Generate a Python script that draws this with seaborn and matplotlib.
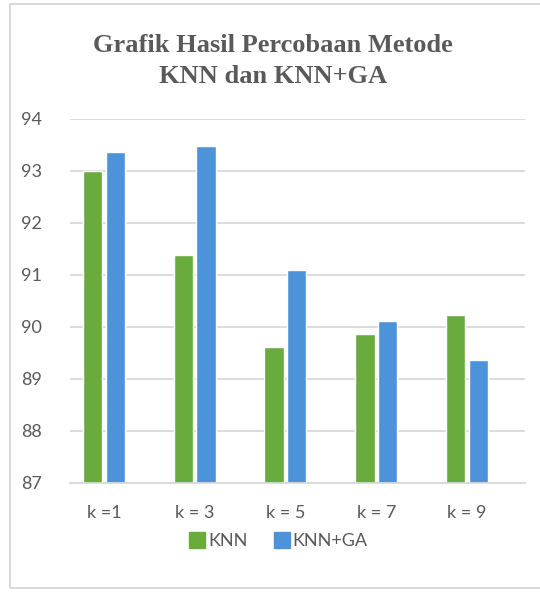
import pandas as pd
import matplotlib.pyplot as plt
import seaborn as sns
from matplotlib.lines import Line2D

# Data
k_labels = ["k =1", "k = 3", "k = 5", "k = 7", "k = 9"]
knn = [93.0, 91.38, 89.62, 89.87, 90.24]
knn_ga = [93.37, 93.49, 91.1, 90.12, 89.37]
methods = ["KNN", "KNN+GA"]

df = pd.DataFrame({
    "k": k_labels * 2,
    "acc": knn + knn_ga,
    "method": [methods[0]] * len(knn) + [methods[1]] * len(knn_ga),
})

sns.set_theme(style="white")
plt.rcParams["font.family"] = ["Lato", "DejaVu Sans"]
grey = "#595959"
colors = {"KNN": "#6aab3e", "KNN+GA": "#4d93d9"}

fig = plt.figure(figsize=(5.4, 5.92), dpi=100)
ax = fig.add_axes([70 / 540, 109 / 592, 455 / 540, 364 / 592])

sns.barplot(data=df, x="k", y="acc", hue="method", palette=colors,
            width=0.5, gap=0.15, saturation=1, ax=ax, legend=False)

ax.set_ylim(87, 94)
ax.set_xlim(-0.375, 4.64)
ax.set_yticks(range(87, 95))
ax.yaxis.grid(True, color="#d9d9d9", linewidth=1.3)
ax.set_axisbelow(True)
for s in ["left", "right", "top"]:
    ax.spines[s].set_visible(False)
ax.spines["bottom"].set_color("#d9d9d9")
ax.spines["bottom"].set_linewidth(1.3)
ax.tick_params(axis="both", length=0, labelsize=13, colors=grey)
ax.tick_params(axis="y", pad=20)
ax.tick_params(axis="x", pad=16)
ax.set_xlabel("")
ax.set_ylabel("")

fig.text(0.506, 0.897, "Grafik Hasil Percobaan Metode\nKNN dan KNN+GA",
         ha="center", va="center", fontsize=19, fontweight="bold",
         color=grey, family="Liberation Serif", linespacing=1.45)

handles = [Line2D([0], [0], marker="s", linestyle="", markersize=11,
                  markerfacecolor=colors[m], markeredgecolor=colors[m]) for m in methods]
fig.legend(handles, methods, loc="center", bbox_to_anchor=(0.515, 0.086),
           ncol=2, frameon=False, fontsize=13, labelcolor=grey,
           handletextpad=0.1, columnspacing=1.4, handlelength=1.0)

# light frame around the chart
frame = plt.Rectangle((10 / 540, 4 / 592), 540 / 540, 584 / 592,
                      transform=fig.transFigure, fill=False,
                      edgecolor="#d9d9d9", linewidth=1.5)
fig.patches.append(frame)

plt.savefig("out.png", dpi=100)
